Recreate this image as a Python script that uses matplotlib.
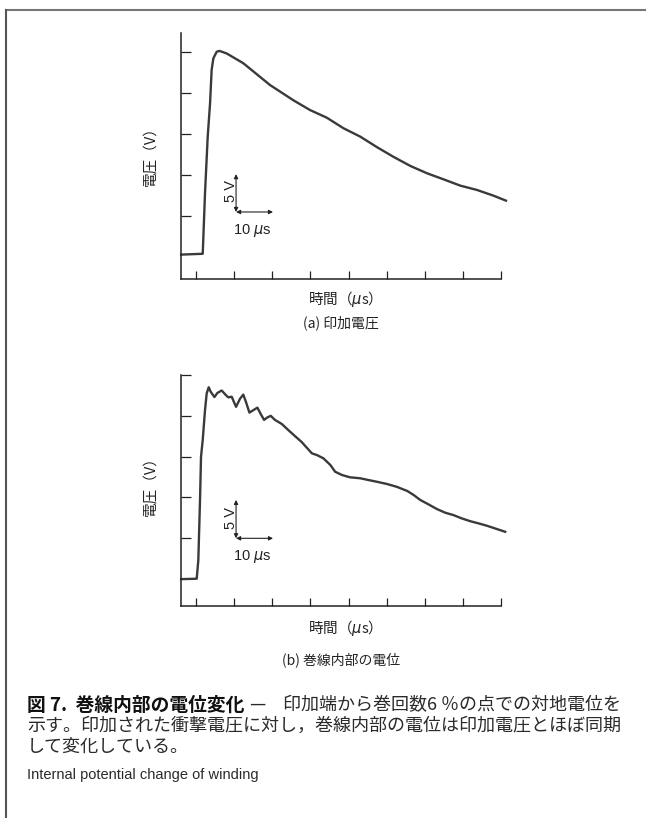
import matplotlib
matplotlib.use("Agg")
import matplotlib.pyplot as plt
from matplotlib.lines import Line2D

plt.rcParams['font.family'] = ['Noto Sans CJK JP', 'DejaVu Sans']
plt.rcParams['mathtext.fontset'] = 'dejavusans'

# ---- data (time in µs, voltage in V) ----
t_a = [-3.9, 1.76, 2.36, 3.07, 3.68, 4.1, 4.55, 5.43, 6.13, 8.0, 12.4, 19.4, 25.5, 29.9,
       34.3, 38.7, 43.1, 47.4, 51.8, 56.2, 60.6, 64.9, 69.3, 73.7, 78.0, 81.3]
v_a = [0.3, 0.4, 7.8, 14.7, 18.7, 22.8, 24.2, 25.0, 25.1, 24.8, 23.6, 20.95, 19.1, 17.9,
       16.97, 15.68, 14.66, 13.4, 12.2, 11.1, 10.2, 9.47, 8.7, 8.17, 7.48, 6.87]

t_b = [-3.9, 0.18, 0.6, 1.05, 1.31, 1.75, 2.36, 2.8, 3.33, 3.85, 4.82, 5.6, 6.74, 7.8, 8.48,
       9.36, 10.5, 11.55, 12.4, 13.1, 14.0, 15.05, 16.1, 17.0, 17.85, 18.7, 19.6, 20.7, 22.5,
       24.2, 26.0, 27.7, 29.05, 30.4, 31.7, 33.4, 35.2, 36.5, 38.3, 40.4, 43.1, 45.2, 47.4,
       50.1, 52.7, 55.4, 57.1, 58.8, 61.0, 63.2, 65.4, 67.5, 69.7, 71.9, 74.1, 76.3, 78.5, 81.1]
v_b = [0.0, 0.05, 2.3, 9.7, 15.0, 17.0, 20.7, 22.75, 23.5, 22.95, 22.3, 22.8, 23.1, 22.55, 22.26,
       22.34, 21.1, 22.1, 22.6, 21.7, 20.4, 20.7, 21.0, 20.2, 19.5, 19.8, 20.0, 19.5, 19.0,
       18.26, 17.5, 16.8, 16.1, 15.4, 15.2, 14.8, 14.0, 13.15, 12.75, 12.47, 12.35, 12.14, 11.93,
       11.65, 11.3, 10.8, 10.3, 9.7, 9.15, 8.58, 8.13, 7.85, 7.44, 7.1, 6.83, 6.54, 6.2, 5.8]

x_ticks = [0, 10, 20, 30, 40, 50, 60, 70, 80]
y_ticks = [5, 10, 15, 20, 25]

ylabel = '電圧（V）'
xlabel = '時間（$\\mu$s）'
sub_a = '(a) 印加電圧'
sub_b = '(b) 巻線内部の電位'

W, H = 646, 818
fig = plt.figure(figsize=(W / 100, H / 100), dpi=100)
fig.patch.set_facecolor('white')

def px_ax(left, top, right, bottom):
    return fig.add_axes([left / W, 1 - bottom / H, (right - left) / W, (bottom - top) / H])

ax_a = px_ax(181, 33, 501, 279)
ax_b = px_ax(181, 375, 501, 606)

line_col = '#3a3a3a'

def style(ax, ylim):
    ax.set_xlim(-3.94, 80)
    ax.set_ylim(*ylim)
    for s in ('top', 'right'):
        ax.spines[s].set_visible(False)
    for s in ('left', 'bottom'):
        ax.spines[s].set_linewidth(1.1)
        ax.spines[s].set_color('#222222')
    ax.set_xticks(x_ticks)
    ax.set_yticks(y_ticks)
    ax.tick_params(axis='y', direction='in', length=7.5, width=0.9, colors='#222222',
                   labelleft=False)
    ax.tick_params(axis='x', direction='in', length=6, width=0.9, colors='#222222',
                   labelbottom=False)
    ax.set_facecolor('none')

style(ax_a, (-2.67, 27.28))
style(ax_b, (-3.29, 25.0))

ax_a.plot(t_a, v_a, color=line_col, lw=1.7, clip_on=False, solid_joinstyle='round')
ax_b.plot(t_b, v_b, color=line_col, lw=1.7, clip_on=False, solid_joinstyle='round')

# scale bars
def scalebar(ax, x0, y0, y1, x1, ylab, xlab):
    ap = dict(arrowstyle='<|-|>', color='#222222', lw=0.8, mutation_scale=6,
              shrinkA=0, shrinkB=0)
    ax.annotate('', xy=(x0, y1), xytext=(x0, y0), arrowprops=ap)
    ax.annotate('', xy=(x1, y0), xytext=(x0, y0), arrowprops=ap)
    ax.text(x0 - 1.3, ylab, '5 V', rotation=90, ha='center', va='center',
            fontsize=10.5, family=['Liberation Sans', 'DejaVu Sans'], color='#222222')
    ax.text(x0 - 0.7, xlab, '10 $\\mu$s', ha='left', va='center',
            fontsize=10.5, family=['Liberation Sans', 'DejaVu Sans'], color='#222222')

scalebar(ax_a, 10.5, 5.49, 10.1, 20.2, 8.0, 3.2)
scalebar(ax_b, 10.5, 5.0, 9.7, 20.2, 7.5, 2.74)

# axis labels
for yc in (153, 483):
    fig.text(150 / W, 1 - yc / H, ylabel, rotation=90, ha='center', va='center',
             fontsize=10.5, color='#222222')
for yc in (299, 628):
    fig.text(341 / W, 1 - yc / H, xlabel, ha='center', va='center', fontsize=10.5,
             color='#222222')
fig.text(341 / W, 1 - 323 / H, sub_a, ha='center', va='center', fontsize=10,
         color='#222222')
fig.text(341 / W, 1 - 660 / H, sub_b, ha='center', va='center', fontsize=10,
         color='#222222')

# frame lines
fig.add_artist(Line2D([6 / W, 1], [1 - 10 / H, 1 - 10 / H], color='#777777', lw=1.5))
fig.add_artist(Line2D([6 / W, 6 / W], [0, 1 - 10 / H], color='#555555', lw=1.5))

# caption
cap_title = '図 7.  巻線内部の電位変化'
cap_dash = '—'
cap_l1 = '印加端から巻回数6 ％の点での対地電位を'
cap_l2 = '示す。印加された衝撃電圧に対し，巻線内部の電位は印加電圧とほぼ同期'
cap_l3 = 'して変化している。'
cap_en = 'Internal potential change of winding'

fig.text(27 / W, 1 - 705 / H, cap_title, ha='left', va='center', fontsize=13.5,
         fontweight='bold', color='#111111')
fig.text(257 / W, 1 - 705 / H, cap_dash, ha='center', va='center', fontsize=13,
         color='#2a2a2a')
fig.text(621 / W, 1 - 705 / H, cap_l1, ha='right', va='center', fontsize=13,
         color='#2a2a2a')
fig.text(27 / W, 1 - 726 / H, cap_l2, ha='left', va='center', fontsize=13,
         color='#2a2a2a')
fig.text(27 / W, 1 - 747 / H, cap_l3, ha='left', va='center', fontsize=13,
         color='#2a2a2a')
fig.text(27 / W, 1 - 775 / H, cap_en, ha='left', va='center', fontsize=10.5,
         family=['Liberation Sans Narrow', 'Liberation Sans', 'DejaVu Sans'],
         color='#2a2a2a')

fig.savefig('out.png', dpi=100, facecolor='white')
